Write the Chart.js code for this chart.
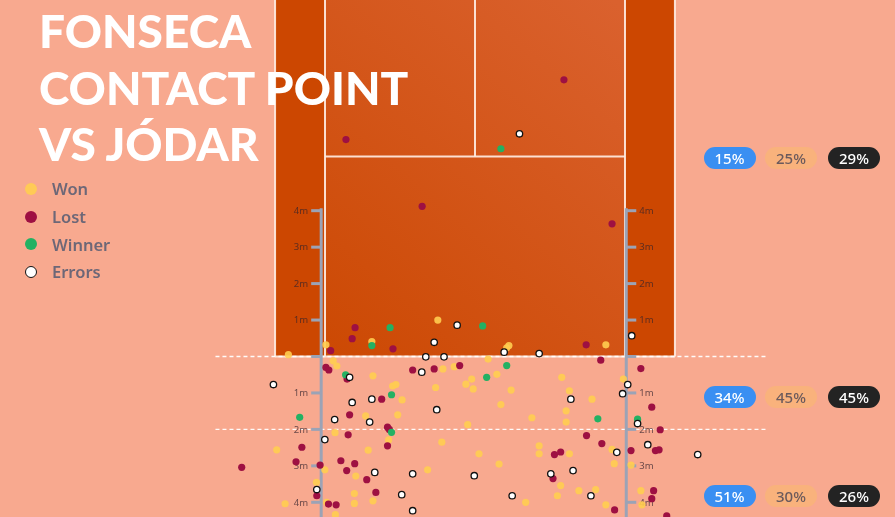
<!DOCTYPE html>
<html>
<head>
<meta charset="utf-8">
<script src="https://cdn.jsdelivr.net/npm/chart.js@4.4.1/dist/chart.umd.min.js"></script>
<style>
  html, body { margin: 0; padding: 0; background: #f8a98f; }
  #wrap { position: relative; width: 895px; height: 517px; overflow: hidden; background: #f8a98f; }
  #c { position: absolute; left: 0; top: 0; }
  #title { position: absolute; left: 39px; top: 3px; font-family: Lato, "DejaVu Sans", sans-serif; font-weight: 900;
           font-size: 46px; line-height: 56.5px; color: #ffffff; white-space: nowrap; pointer-events: none; }
  #legend { position: absolute; left: 25px; top: 175px; font-family: "Noto Sans", "Open Sans", sans-serif; font-weight: 600;
            font-size: 16.5px; color: #6d6777; }
  .li { display: flex; align-items: center; height: 27.7px; }
  .dot { width: 12px; height: 12px; border-radius: 50%; margin-right: 15px; box-sizing: border-box; }
  .pill { position: absolute; width: 52px; height: 22px; border-radius: 11px; display: flex; align-items: center; justify-content: center;
          font-family: "Noto Sans", "Open Sans", sans-serif; font-weight: 500; font-size: 15px; }
</style>
</head>
<body>
<div id="wrap">
  <canvas id="c" width="895" height="517"></canvas>
  <div id="title"></div>
  <div id="legend"></div>
</div>
<script>
// ---------- DATA (metres: x from centre line, y from baseline; + = inside court) ----------
const titleLines = ["FONSECA", "CONTACT POINT", "VS JÓDAR"];
const seriesNames = ["Won", "Lost", "Winner", "Errors"];

const won = [
  [-4.09,0.32],[-5.12,0.05],[-2.83,0.41],[-1.02,1.00],[0.93,0.30],[0.87,0.24],[3.59,0.32],
  [-3.89,-0.12],[-3.79,-0.26],[-2.80,-0.53],[-0.88,-0.34],[-0.57,-0.28],[0.36,-0.07],[0.60,-0.49],
  [-2.26,-0.81],[-2.17,-0.77],[-1.08,-0.85],[-0.25,-0.76],[-0.09,-0.62],[-0.05,-0.89],[-2.00,-1.19],
  [-2.12,-1.60],[-3.00,-1.63],[-0.20,-1.87],[-3.84,-2.09],[-2.37,-2.29],[-5.44,-2.56],[-2.93,-2.57],
  [-0.91,-2.35],[0.11,-2.67],[-4.12,-3.11],[-3.27,-3.28],[-1.30,-3.11],[0.66,-2.95],[-4.35,-3.45],
  [-3.31,-3.76],[-5.21,-4.04],[-4.07,-4.00],[-3.31,-4.03],[-2.80,-3.96],[-3.83,-4.34],[2.38,-0.57],
  [4.07,-0.62],[0.99,-0.92],[2.59,-0.94],[3.21,-1.17],[0.71,-1.32],[2.50,-1.49],[1.56,-1.68],
  [2.50,-1.80],[1.76,-2.45],[1.76,-2.67],[2.59,-2.67],[3.76,-2.55],[3.82,-2.94],[4.28,-2.98],
  [2.35,-3.54],[2.85,-3.68],[3.31,-3.65],[2.26,-3.82],[1.39,-4.00],[3.59,-4.07],[4.55,-3.68],[4.58,-4.07]
];
const lost = [
  [-1.45,4.12],[3.76,3.64],[2.44,7.59],[-3.54,5.95],[-3.29,0.79],[-3.37,0.49],[-2.25,0.21],[-3.96,0.16],
  [3.05,0.32],[3.45,-0.10],[-4.09,-0.30],[-4.01,-0.37],[-3.51,-0.62],[-1.71,-0.37],[-1.12,-0.34],
  [-0.42,-0.25],[-2.56,-1.17],[-3.44,-1.60],[-2.40,-1.94],[-2.35,-2.00],[-2.40,-2.45],[-3.48,-2.15],
  [-4.75,-2.49],[-6.40,-3.04],[-4.91,-2.89],[-4.25,-2.98],[-3.68,-2.86],[-3.30,-2.94],[-3.52,-3.13],
  [-2.97,-3.38],[-4.34,-3.82],[-2.72,-3.73],[-4.02,-4.05],[-3.81,-4.07],[4.55,-0.33],[4.85,-1.39],
  [5.08,-2.01],[3.06,-2.17],[3.48,-2.39],[4.95,-2.58],[5.05,-2.56],[2.18,-2.69],[2.35,-2.62],
  [4.28,-2.58],[2.14,-3.35],[3.83,-4.21],[4.90,-3.68],[4.85,-3.90],[5.26,-4.37]
];
const winner = [
  [0.71,5.70],[0.21,0.84],[-2.33,0.79],[-2.83,0.30],[-3.55,-0.50],[0.32,-0.57],[0.87,-0.25],
  [-2.29,-1.05],[-4.81,-1.67],[-2.29,-2.08],[3.37,-1.71],[4.46,-1.72]
];
const errors = [
  [1.22,6.11],[-0.49,0.86],[-1.12,0.39],[0.80,0.12],[1.76,0.08],[-1.35,-0.01],[-0.85,-0.01],[4.30,0.57],
  [-1.46,-0.43],[-3.44,-0.57],[-5.53,-0.77],[-3.37,-1.26],[-2.83,-1.17],[-1.05,-1.46],[-3.85,-1.73],
  [-2.89,-1.80],[-4.12,-2.28],[-2.75,-3.18],[-1.71,-3.22],[-0.02,-3.27],[-4.34,-3.65],[-2.01,-3.79],
  [-1.71,-4.23],[4.19,-0.77],[2.63,-1.17],[4.05,-1.02],[4.46,-1.84],[4.74,-2.42],[6.11,-2.69],
  [3.89,-2.63],[2.08,-3.22],[2.69,-3.13],[3.18,-3.82],[1.02,-3.82]
];
const rulerTicks = [-4,-3,-2,-1,0,1,2,3,4];
const rulerLabels = ["4m","3m","2m","1m","","1m","2m","3m","4m"];
const zoneRows = [5.45, -1.11, -3.83];          // depth (m) of each zone row
const blueShare  = ["15%","34%","51%"];
const peachShare = ["25%","45%","30%"];
const darkShare  = ["29%","45%","26%"];
// --------------------------------------------------------------------------------------

const COLORS = { won: "rgba(255,205,80,0.9)", lost: "#9e1042", winner: "#23b163", errors: "#ffffff" };
const SINGLES = 4.115, DOUBLES = 5.485, SERVICE = 5.485, NET = 11.885;
const PXM = 36.45;

const t = document.getElementById("title");
titleLines.forEach(s => { const d = document.createElement("div"); d.textContent = s; t.appendChild(d); });
const lg = document.getElementById("legend");
const legCols = [COLORS.won, COLORS.lost, COLORS.winner, COLORS.errors];
seriesNames.forEach((n, i) => {
  const r = document.createElement("div"); r.className = "li";
  const d = document.createElement("span"); d.className = "dot"; d.style.background = legCols[i];
  if (i === 3) d.style.border = "1.5px solid #111";
  const s = document.createElement("span"); s.textContent = n;
  r.appendChild(d); r.appendChild(s); lg.appendChild(r);
});

const courtPlugin = {
  id: "court",
  beforeDatasetsDraw(chart) {
    const { ctx, scales: { x, y } } = chart;
    const X = v => x.getPixelForValue(v), Y = v => y.getPixelForValue(v);
    ctx.save();
    ctx.fillStyle = "#cc4701";
    ctx.fillRect(X(-DOUBLES), Y(NET), X(DOUBLES) - X(-DOUBLES), Y(0) - Y(NET));
    const g = ctx.createLinearGradient(X(-SINGLES), Y(0), X(SINGLES), Y(NET * 0.8));
    g.addColorStop(0, "#cc4903"); g.addColorStop(1, "#da612e");
    ctx.fillStyle = g;
    ctx.fillRect(X(-SINGLES), Y(NET), X(SINGLES) - X(-SINGLES), Y(0) - Y(NET));
    ctx.strokeStyle = "rgba(255,236,226,0.92)"; ctx.lineWidth = 2;
    const line = (x1, y1, x2, y2) => { ctx.beginPath(); ctx.moveTo(X(x1), Y(y1)); ctx.lineTo(X(x2), Y(y2)); ctx.stroke(); };
    [-DOUBLES, -SINGLES, SINGLES, DOUBLES].forEach(v => line(v, 0, v, NET));
    line(-DOUBLES, 0, DOUBLES, 0);
    line(-SINGLES, SERVICE, SINGLES, SERVICE);
    line(0, SERVICE, 0, NET);
    ctx.setLineDash([4, 3]); ctx.lineWidth = 1.3; ctx.strokeStyle = "rgba(255,255,255,0.95)";
    [0, -2].forEach(v => line(-7.12, v, 7.97, v));
    ctx.setLineDash([]);
    ctx.strokeStyle = "#9ba3b6"; ctx.lineWidth = 3;
    ctx.font = "9.5px 'Noto Sans', sans-serif"; ctx.fillStyle = "rgba(50,35,45,0.72)"; ctx.textBaseline = "middle";
    [[-4.22, -1], [4.15, 1]].forEach(([rx, side]) => {
      const px = X(rx);
      ctx.beginPath(); ctx.moveTo(px, Y(4.07)); ctx.lineTo(px, chart.height + 2); ctx.stroke();
      rulerTicks.forEach((v, i) => {
        const py = Y(v);
        ctx.beginPath(); ctx.moveTo(px, py); ctx.lineTo(px + side * 10, py); ctx.stroke();
        if (rulerLabels[i]) {
          ctx.textAlign = side < 0 ? "right" : "left";
          ctx.fillText(rulerLabels[i], px + side * 13, py + 0.5);
        }
      });
    });
    ctx.restore();
  },
  afterDraw(chart) {
    const { y } = chart.scales;
    const wrap = document.getElementById("wrap");
    if (wrap.dataset.pills) return;
    wrap.dataset.pills = "1";
    const cols = [
      { arr: blueShare, bg: "#3a8ff2", fg: "#ffffff", cx: 729.5 },
      { arr: peachShare, bg: "#f9b27c", fg: "#6b5a5c", cx: 791 },
      { arr: darkShare, bg: "#232323", fg: "#ffffff", cx: 854 }
    ];
    zoneRows.forEach((row, r) => {
      const py = y.getPixelForValue(row);
      cols.forEach(c => {
        const p = document.createElement("div"); p.className = "pill";
        p.textContent = c.arr[r];
        p.style.background = c.bg; p.style.color = c.fg;
        p.style.left = (c.cx - 26) + "px"; p.style.top = (py - 11) + "px";
        wrap.appendChild(p);
      });
    });
  }
};

const toPts = a => a.map(([x, y]) => ({ x, y }));
new Chart(document.getElementById("c"), {
  type: "scatter",
  data: {
    datasets: [
      { label: seriesNames[0], data: toPts(won), backgroundColor: COLORS.won, borderWidth: 0, pointRadius: 3.6 },
      { label: seriesNames[1], data: toPts(lost), backgroundColor: COLORS.lost, borderWidth: 0, pointRadius: 3.6 },
      { label: seriesNames[2], data: toPts(winner), backgroundColor: COLORS.winner, borderWidth: 0, pointRadius: 3.6 },
      { label: seriesNames[3], data: toPts(errors), backgroundColor: COLORS.errors, borderColor: "#111", borderWidth: 1.3, pointRadius: 3.2 }
    ].reverse()
  },
  options: {
    responsive: false, animation: false, events: [],
    layout: { padding: 0, autoPadding: false },
    clip: false,
    plugins: { legend: { display: false }, tooltip: { enabled: false }, title: { display: false } },
    scales: {
      x: { type: "linear", display: false, min: -475 / PXM, max: 420 / PXM },
      y: { type: "linear", display: false, min: -160.5 / PXM, max: 356.5 / PXM }
    }
  },
  plugins: [courtPlugin]
});
</script>
</body>
</html>
